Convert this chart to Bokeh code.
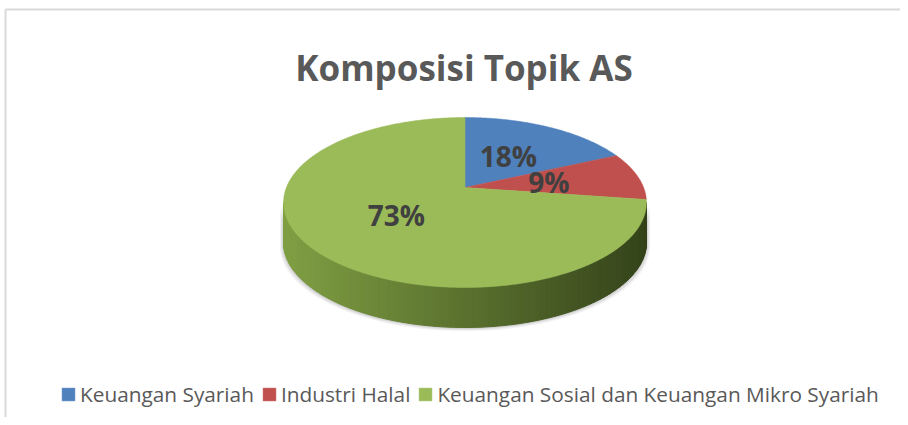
import math
from bokeh.plotting import figure
from bokeh.models import Range1d, Legend, LegendItem
from bokeh.core.properties import value
from bokeh.embed import file_html
from bokeh.resources import INLINE

# ---- data ----
categories = ["Keuangan Syariah", "Industri Halal", "Keuangan Sosial dan Keuangan Mikro Syariah"]
counts = [2, 1, 8]
slice_colors = ["#4f81bd", "#c0504d", "#9bbb59"]
title_text = "Komposisi Topik AS"

total = sum(counts)
shares = [c / total for c in counts]
labels = [f"{round(100 * s)}%" for s in shares]

# ---- 3D pie projection (perspective of a tilted disc) ----
APX, APY = 464.5, 187.0   # projected centre of the disc
A, B, P = 178.6, 82.35, -0.1765
DEPTH = 40.0


def proj(theta_deg, r=1.0, dz=0.0):
    t = math.radians(theta_deg)
    u = r * math.sin(t)
    v = -r * math.cos(t)
    den = 1 + P * v
    return APX + A * u / den, APY + B * v / den + dz


def lerp_color(c1, c2, f):
    a = [int(c1[i:i + 2], 16) for i in (1, 3, 5)]
    b = [int(c2[i:i + 2], 16) for i in (1, 3, 5)]
    return "#%02x%02x%02x" % tuple(round(a[k] + (b[k] - a[k]) * f) for k in range(3))


W, H = 900, 417
p = figure(width=W, height=H, output_backend="svg", toolbar_location=None,
           x_range=Range1d(0, W), y_range=Range1d(H, 0), min_border=0)
p.axis.visible = False
p.grid.visible = False
p.outline_line_color = None
p.background_fill_color = "white"
p.border_fill_color = "white"

# silhouette limits of the visible side
th_r = math.degrees(math.acos(P))          # right-most point angle
th_l = 360 - th_r                           # left-most point angle

# soft shadow
for off, alpha in [(6, 0.10), (4, 0.15), (2, 0.2)]:
    xs, ys = [], []
    n = 80
    for i in range(n + 1):
        th = th_r + (th_l - th_r) * i / n
        x, y = proj(th, dz=DEPTH)
        xs.append(x)
        ys.append(y + off * 0.6)
    for i in range(n + 1):
        th = th_l - (th_l - th_r) * i / n
        x, y = proj(th)
        xs.append(x)
        ys.append(y + off * 0.4)
    xs = [APX + (x - APX) * (1 + off / 300) for x in xs]
    p.patch(xs, ys, fill_color="#7f7f7f", fill_alpha=alpha, line_color=None)

# side wall with horizontal gradient
left_col, right_col = "#809f43", "#34431a"
xl = proj(th_l)[0]
xr = proj(th_r)[0]
n = 160
sx, sy, sc = [], [], []
for i in range(n):
    t0 = th_r + (th_l - th_r) * i / n
    t1 = th_r + (th_l - th_r) * (i + 1) / n
    x0, y0 = proj(t0)
    x1, y1 = proj(t1)
    sx.append([x0, x1, x1, x0])
    sy.append([y0, y1, y1 + DEPTH, y0 + DEPTH])
    xm = (x0 + x1) / 2
    f = (xm - xl) / (xr - xl)
    sc.append(lerp_color(left_col, right_col, f))
p.patches(sx, sy, fill_color=sc, line_color=sc, line_width=1)

# top face slices
renderers = []
start = 0.0
for share, col in zip(shares, slice_colors):
    end = start + share * 360
    steps = max(2, int((end - start) / 0.5))
    xs, ys = [APX], [APY]
    for i in range(steps + 1):
        x, y = proj(start + (end - start) * i / steps)
        xs.append(x)
        ys.append(y)
    r = p.patch(xs, ys, fill_color=col, line_color=col, line_width=0.5)
    renderers.append(r)
    start = end

# data labels
start = 0.0
lx, ly = [], []
for share in shares:
    mid = start + share * 180
    x, y = proj(mid, r=0.48)
    lx.append(x)
    ly.append(y)
    start += share * 360
p.text(lx, ly, text=labels, text_font=value("Open Sans"), text_font_style="bold",
       text_font_size="28px", text_color="#404040", text_align="center",
       text_baseline="middle")

# title
p.text([463.5], [67], text=[title_text], text_font=value("Open Sans"),
       text_font_style="bold", text_font_size="35px", text_color="#595959",
       text_align="center", text_baseline="alphabetic")

# chart border (top and left)
p.line([5, W], [9, 9], line_color="#d9d9d9", line_width=2)
p.line([5, 5], [9, H], line_color="#d9d9d9", line_width=2)

legend = Legend(items=[LegendItem(label=c, renderers=[r]) for c, r in zip(categories, renderers)],
                orientation="horizontal", location=(60, 9),
                glyph_width=16, glyph_height=16, label_standoff=4, spacing=7,
                label_text_font="Open Sans", label_text_font_size="20.8px",
                label_text_color="#595959", border_line_color=None,
                background_fill_alpha=0, padding=0, margin=0)
p.add_layout(legend)

open("out.html", "w").write(file_html(p, INLINE))
